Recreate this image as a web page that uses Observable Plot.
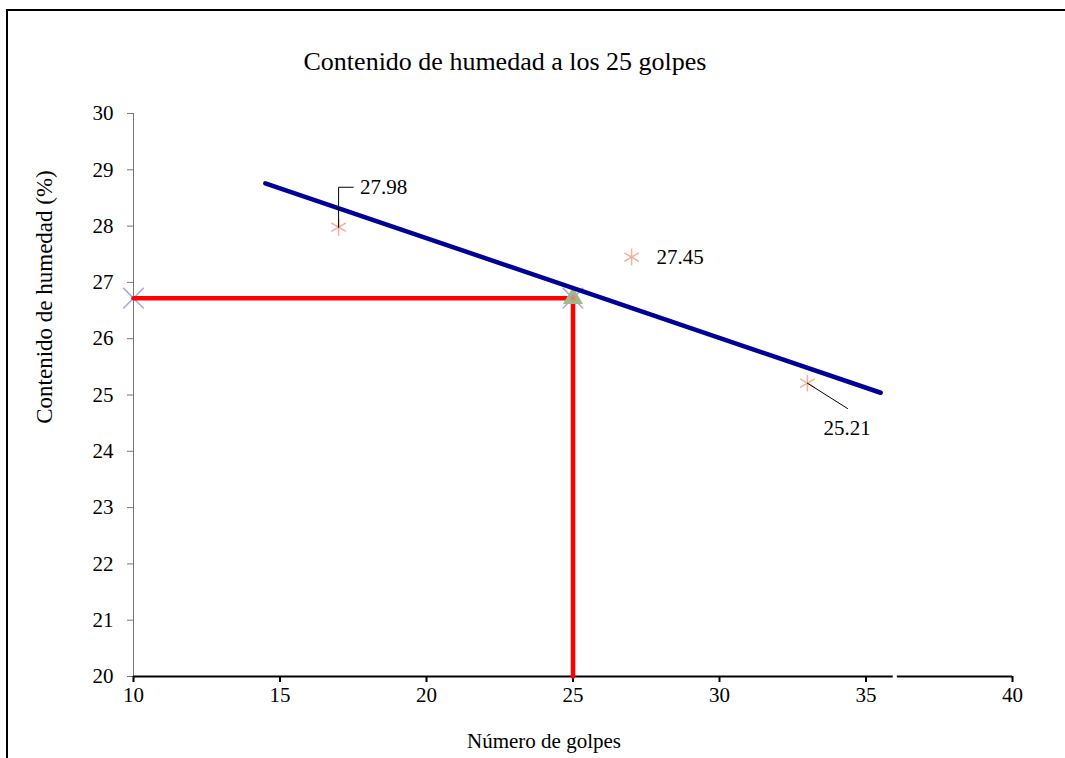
<!DOCTYPE html>
<html>
<head>
<meta charset="utf-8">
<script src="https://cdn.jsdelivr.net/npm/d3@7"></script>
<script src="https://cdn.jsdelivr.net/npm/@observablehq/plot@0.6"></script>
<style>
  html, body { margin: 0; padding: 0; background: #fff; }
  #wrap { position: relative; width: 1065px; height: 758px; overflow: hidden; font-family: "Liberation Serif", "Times New Roman", serif; }
  #chart svg, #chart svg text { font-family: "Liberation Serif", "Times New Roman", serif !important; }
  #frame { position: absolute; left: 6px; top: 9px; right: -10px; bottom: -10px; border-top: 2px solid #000; border-left: 2px solid #000; pointer-events: none; }
  .lbl { position: absolute; white-space: nowrap; color: #000; }
  #title { left: 505px; top: 62px; transform: translate(-50%, -50%); font-size: 26px; }
  #xlabel { left: 544px; top: 741px; transform: translate(-50%, -50%); font-size: 21px; }
  #ylabel { left: 45px; top: 297px; transform: translate(-50%, -50%) rotate(-90deg); font-size: 23px; }
</style>
</head>
<body>
<div id="wrap">
  <div id="chart"></div>
  <div id="frame"></div>
  <div class="lbl" id="title">Contenido de humedad a los 25 golpes</div>
  <div class="lbl" id="xlabel">Número de golpes</div>
  <div class="lbl" id="ylabel">Contenido de humedad (%)</div>
</div>
<script>
// ---- data ----
const golpes = [17, 27, 33];
const humedad = [27.98, 27.45, 25.21];
const etiquetas = ["27.98", "27.45", "25.21"];

const trendX = [14.5, 35.5];
const trendY = [28.76, 25.04];

const golpes25 = 25;
const humedad25 = 26.72;
const xMin = 10, yMin = 20;

const xTicks = [10, 15, 20, 25, 30, 35, 40];
const yTicks = [20, 21, 22, 23, 24, 25, 26, 27, 28, 29, 30];

// annotation leaders (data units)
const leader1 = [{x: 17, y: 27.98}, {x: 17, y: 28.69}, {x: 17.5, y: 28.69}];
const leader3 = [{x: 33, y: 25.21}, {x: 34.37, y: 24.76}];
const label1 = {x: 17.73, y: 28.69, text: "27.98"};
const label2 = {x: 27, y: 27.45, text: "27.45"};
const label3 = {x: 33, y: 25.21, text: "25.21"};

// x axis line segments (with the small gap seen in the original)
const axisSegs = [{x1: 10, x2: 35.93}, {x1: 36.07, x2: 40}];

const pts = golpes.map((g, i) => ({x: g, y: humedad[i], t: etiquetas[i]}));
const trend = trendX.map((x, i) => ({x, y: trendY[i]}));
const redH = [{x: xMin, y: humedad25}, {x: golpes25, y: humedad25}];
const redV = [{x: golpes25, y: humedad25}, {x: golpes25, y: yMin}];
const blueX = [{x: xMin, y: humedad25}, {x: golpes25, y: humedad25}];

const serif = "'Liberation Serif', 'Times New Roman', serif";

const chart = Plot.plot({
  width: 1065,
  height: 758,
  marginLeft: 133,
  marginRight: 53,
  marginTop: 113,
  marginBottom: 82,
  style: {fontFamily: serif, fontSize: "21px", background: "transparent", color: "#000"},
  x: {domain: [10, 40]},
  y: {domain: [20, 30]},
  marks: [
    Plot.ruleX([xMin], {stroke: "#777", strokeWidth: 1}),
    Plot.axisY({ticks: yTicks, tickSize: 6, tickPadding: 14, label: null, stroke: "#777", fontSize: 21, fontFamily: serif}),
    Plot.axisX({ticks: xTicks, tickSize: 6, tickPadding: 5, label: null, strokeWidth: 2, fontSize: 21, fontFamily: serif}),
    Plot.ruleY(axisSegs, {y: () => yMin, x1: "x1", x2: "x2", stroke: "#000", strokeWidth: 2}),
    Plot.dot(blueX, {x: "x", y: "y", symbol: "times", r: 9.4, stroke: "#a3a9e6", strokeWidth: 1.5}),
    Plot.line(redH, {x: "x", y: "y", stroke: "#ff0000", strokeWidth: 4.5}),
    Plot.line(redV, {x: "x", y: "y", stroke: "#ff0000", strokeWidth: 4.5}),
    Plot.dot([{x: golpes25, y: humedad25}], {x: "x", y: "y", symbol: "triangle", r: 7.4, fill: "#9bbd8b", stroke: "none"}),
    Plot.dot([{x: golpes25, y: humedad25}], {x: "x", y: "y", symbol: "asterisk", r: 3.5, stroke: "#f07070", strokeWidth: 1}),
    Plot.line(trend, {x: "x", y: "y", stroke: "#000099", strokeWidth: 4.5}),
    Plot.dot(pts, {x: "x", y: "y", symbol: "asterisk", r: 8, stroke: "#f5b09c", strokeWidth: 1.5}),
    Plot.line(leader1, {x: "x", y: "y", stroke: "#000", strokeWidth: 1}),
    Plot.line(leader3, {x: "x", y: "y", stroke: "#000", strokeWidth: 1}),
    Plot.text([label1], {x: "x", y: "y", text: "text", textAnchor: "start", fontSize: 21, fontFamily: serif}),
    Plot.text([label2], {x: "x", y: "y", text: "text", textAnchor: "start", dx: 25, fontSize: 21, fontFamily: serif}),
    Plot.text([label3], {x: "x", y: "y", text: "text", textAnchor: "start", dx: 16, dy: 45, fontSize: 21, fontFamily: serif})
  ]
});
document.getElementById("chart").appendChild(chart);
</script>
</body>
</html>
